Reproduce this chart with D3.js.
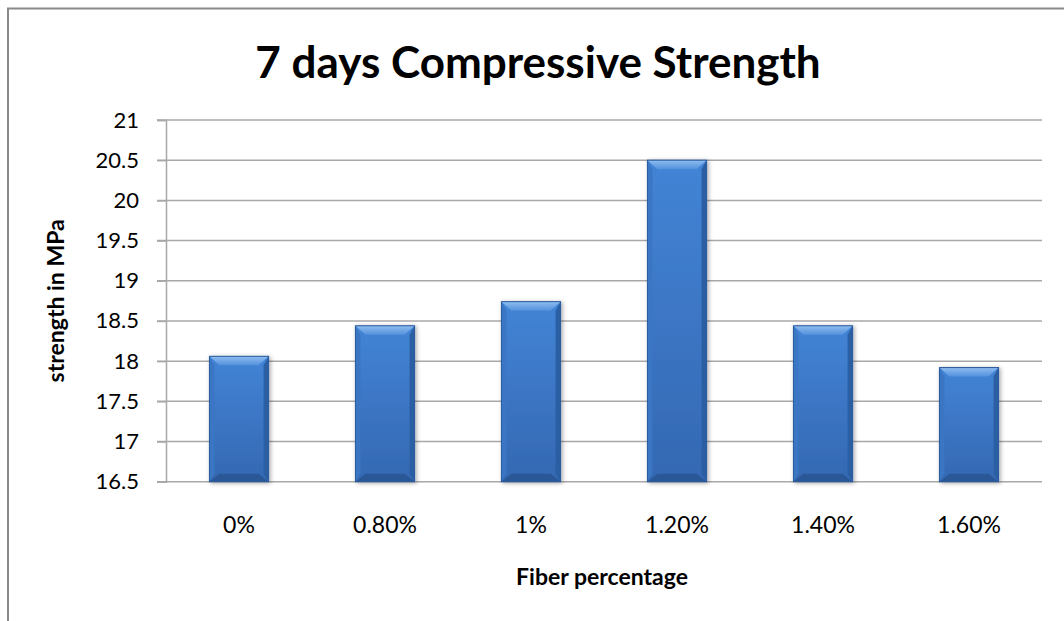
<!DOCTYPE html>
<html>
<head>
<meta charset="utf-8">
<script src="https://d3js.org/d3.v7.min.js"></script>
<style>
  html, body { margin: 0; padding: 0; background: #fff; }
  svg { display: block; }
  text { font-family: Lato, "Open Sans", "Liberation Sans", sans-serif; fill: #000; }
</style>
</head>
<body>
<svg id="chart" width="1064" height="621"></svg>
<script>
// Fiber content and 7-day compressive strength (MPa)
const categories = ["0%", "0.80%", "1%", "1.20%", "1.40%", "1.60%"];
const strength = [18.06, 18.44, 18.74, 20.5, 18.44, 17.92];
const yTicks = [16.5, 17, 17.5, 18, 18.5, 19, 19.5, 20, 20.5, 21];

const title = "7 days Compressive Strength";
const xTitle = "Fiber percentage";
const yTitle = "strength in MPa";

const svg = d3.select("#chart");
const W = 1064, H = 621;
const plot = { left: 166, right: 1042, top: 120, bottom: 481.7 };

// outer chart frame (runs off the right and bottom edges)
svg.append("rect")
  .attr("x", 8).attr("y", 8.5)
  .attr("width", W + 20).attr("height", H + 20)
  .attr("fill", "#fff")
  .attr("stroke", "#8a8a8a").attr("stroke-width", 2);

const x = d3.scaleBand().domain(categories).range([plot.left, plot.right]);
const y = d3.scaleLinear().domain([16.5, 21]).range([plot.bottom, plot.top]);

const defs = svg.append("defs");
const shadow = defs.append("filter").attr("id", "barShadow")
  .attr("x", "-30%").attr("y", "-10%").attr("width", "160%").attr("height", "120%");
shadow.append("feDropShadow")
  .attr("dx", 1.5).attr("dy", 1).attr("stdDeviation", 2.2)
  .attr("flood-color", "#000").attr("flood-opacity", 0.35);

const face = defs.append("linearGradient").attr("id", "faceGrad")
  .attr("x1", 0).attr("y1", 0).attr("x2", 0).attr("y2", 1);
face.append("stop").attr("offset", "0%").attr("stop-color", "#4384d6");
face.append("stop").attr("offset", "100%").attr("stop-color", "#3468b2");

const topG = defs.append("linearGradient").attr("id", "topGrad")
  .attr("x1", 0).attr("y1", 0).attr("x2", 0).attr("y2", 1);
topG.append("stop").attr("offset", "0%").attr("stop-color", "#8fbdf0");
topG.append("stop").attr("offset", "100%").attr("stop-color", "#5391dc");

// gridlines
const gridG = svg.append("g");
gridG.selectAll("line").data(yTicks).join("line")
  .attr("x1", plot.left - 9).attr("x2", plot.right)
  .attr("y1", d => y(d)).attr("y2", d => y(d))
  .attr("stroke", "#a8a8a8").attr("stroke-width", 1.5);

// y axis
const yAxis = d3.axisLeft(y).tickValues(yTicks).tickSize(9).tickPadding(18)
  .tickFormat(d => d3.format("")(d));
const yAxisG = svg.append("g").attr("transform", `translate(${plot.left},0)`).call(yAxis);
yAxisG.select(".domain").attr("stroke", "#a8a8a8").attr("stroke-width", 1.5);
yAxisG.selectAll(".tick line").attr("stroke", "#a8a8a8").attr("stroke-width", 1.5);
yAxisG.selectAll(".tick text")
  .attr("font-size", 22).attr("fill", "#222")
  .style("font-family", "Lato, 'Open Sans', sans-serif");

// x axis labels
const xAxis = d3.axisBottom(x).tickSize(0).tickPadding(35);
const xAxisG = svg.append("g").attr("transform", `translate(0,${plot.bottom})`).call(xAxis);
xAxisG.select(".domain").remove();
xAxisG.selectAll(".tick text")
  .attr("font-size", 23).attr("fill", "#222")
  .style("font-family", "Lato, 'Open Sans', sans-serif");

// bevelled bars
const barW = x.bandwidth() * 0.405;
const bars = svg.append("g").selectAll("g").data(strength).join("g")
  .attr("filter", "url(#barShadow)");

bars.each(function (v, i) {
  const g = d3.select(this);
  const x0 = x(categories[i]) + (x.bandwidth() - barW) / 2;
  const x1 = x0 + barW;
  const y0 = y(v);
  const y1 = y(16.5);
  const tb = 9, bb = 8, sw = 5, sin = 10;
  const poly = pts => g.append("polygon").attr("points", pts.map(p => p.join(",")).join(" "));

  g.append("rect").attr("x", x0).attr("y", y0).attr("width", barW).attr("height", y1 - y0)
    .attr("fill", "url(#faceGrad)");
  // left edge
  poly([[x0, y0], [x0 + sw, y0 + tb], [x0 + sw, y1 - bb], [x0, y1]]).attr("fill", "#3a76c4");
  // right edge
  poly([[x1, y0], [x1 - sw, y0 + tb], [x1 - sw, y1 - bb], [x1, y1]]).attr("fill", "#2c5ea3");
  // bottom edge
  poly([[x0, y1], [x0 + sin, y1 - bb], [x1 - sin, y1 - bb], [x1, y1]]).attr("fill", "#2a5897");
  // top bevel
  poly([[x0, y0], [x1, y0], [x1 - sin, y0 + tb], [x0 + sin, y0 + tb]]).attr("fill", "url(#topGrad)");
  // crisp outline
  g.append("rect").attr("x", x0).attr("y", y0).attr("width", barW).attr("height", y1 - y0)
    .attr("fill", "none").attr("stroke", "#2b5a9c").attr("stroke-width", 1);
});

// titles
svg.append("text")
  .attr("x", 538).attr("y", 78)
  .attr("text-anchor", "middle")
  .attr("font-size", 44).attr("font-weight", "bold")
  .text(title);

svg.append("text")
  .attr("x", 602).attr("y", 585)
  .attr("text-anchor", "middle")
  .attr("font-size", 23).attr("font-weight", "bold")
  .text(xTitle);

svg.append("text")
  .attr("transform", `translate(64,${(plot.top + plot.bottom) / 2}) rotate(-90)`)
  .attr("text-anchor", "middle")
  .attr("font-size", 23).attr("font-weight", "bold")
  .text(yTitle);
</script>
</body>
</html>
